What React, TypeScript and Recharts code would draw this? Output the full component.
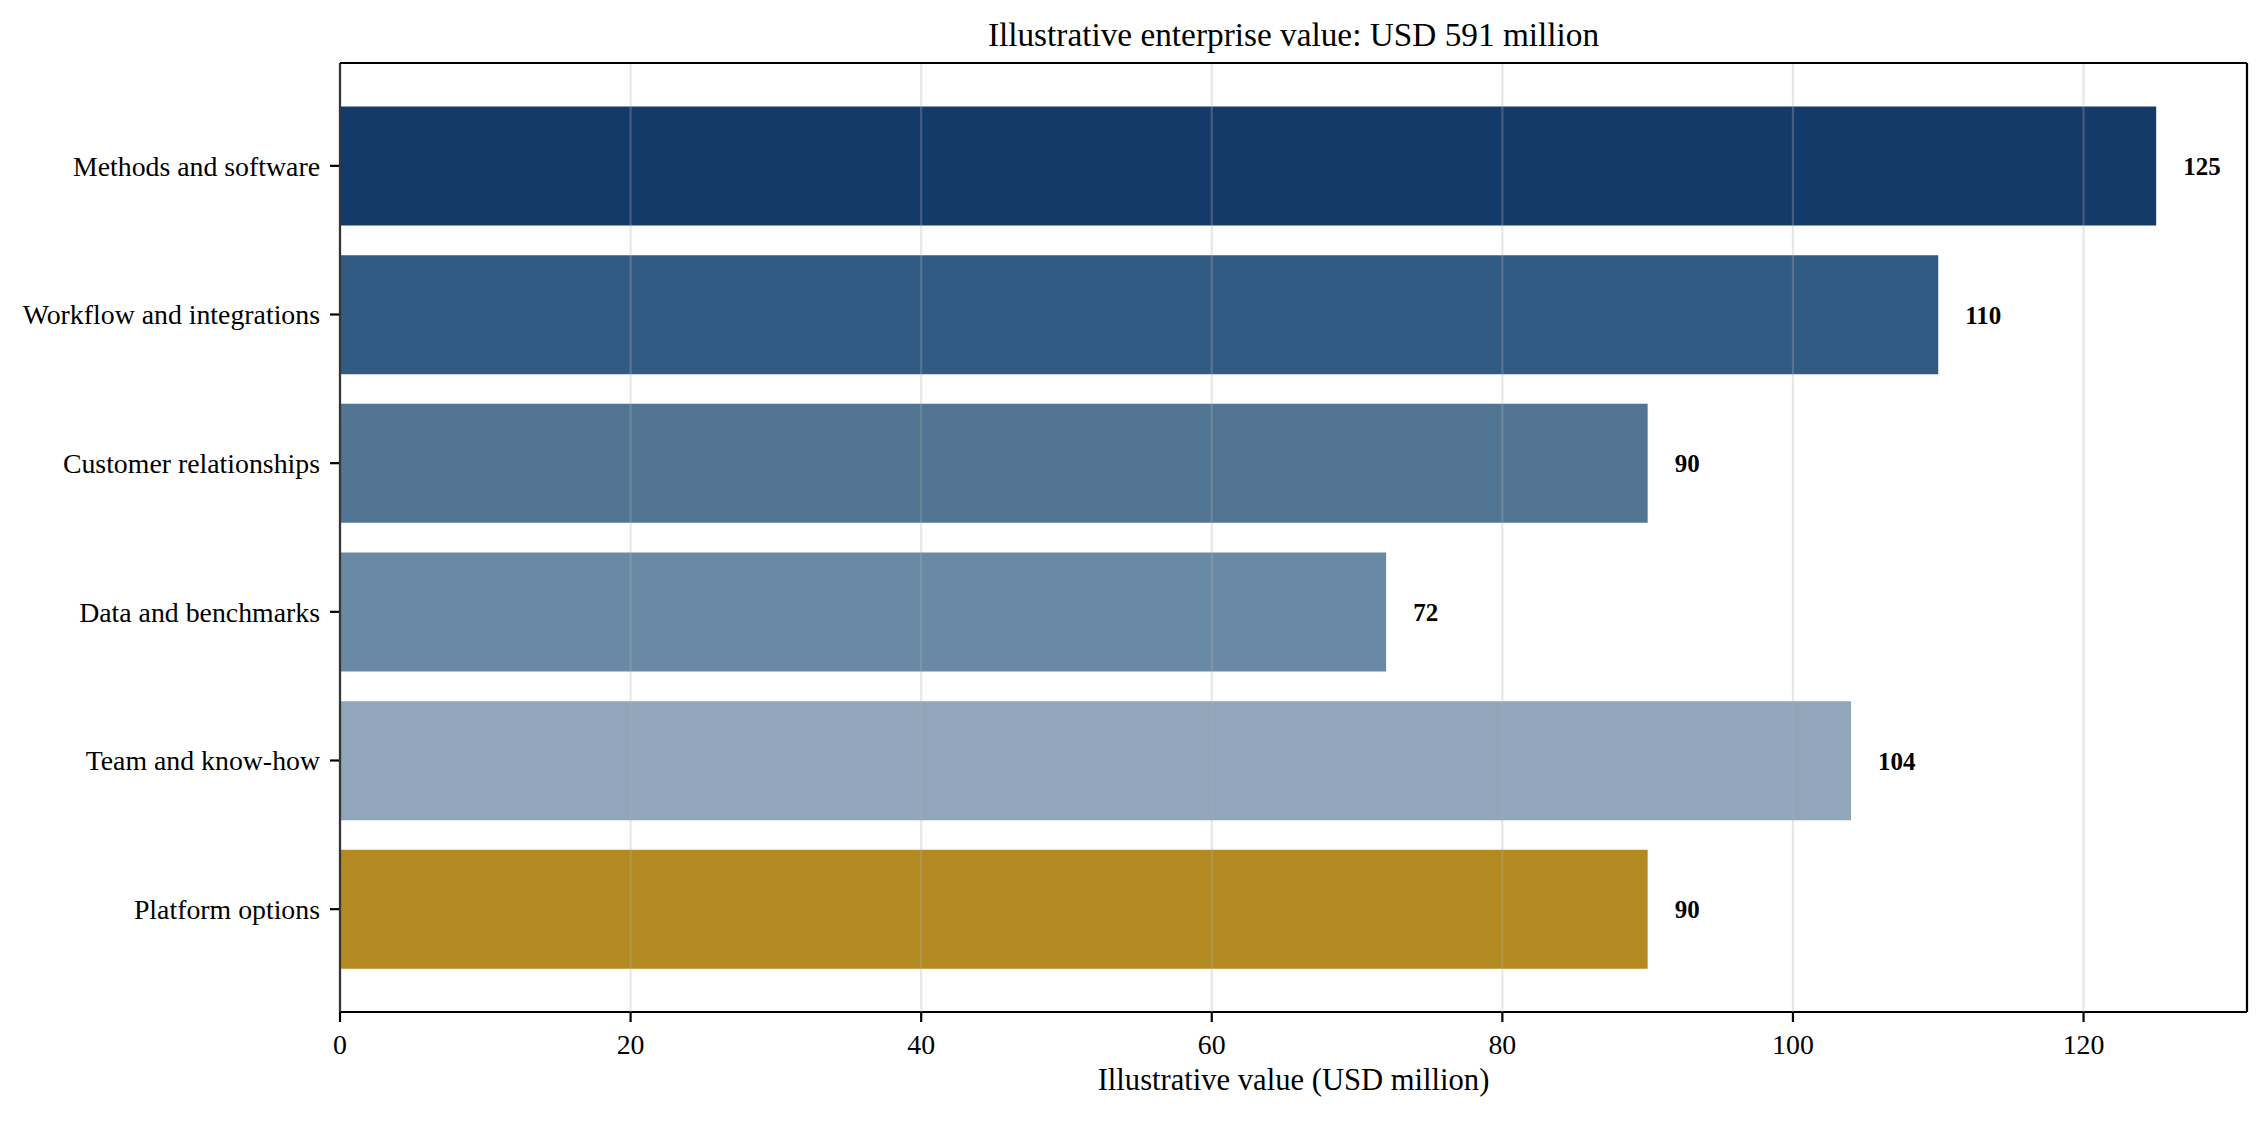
import { BarChart, Bar, XAxis, YAxis, CartesianGrid, Cell, LabelList, Label } from "recharts"

const categories = [
  "Methods and software",
  "Workflow and integrations",
  "Customer relationships",
  "Data and benchmarks",
  "Team and know-how",
  "Platform options",
]
const values = [125, 110, 90, 72, 104, 90]
const barColors = ["#143a69", "#315b83", "#517593", "#6a89a4", "#91a6ba", "#b38a21"]
const xTicks = [0, 20, 40, 60, 80, 100, 120]
const xMax = 131.25
const title = "Illustrative enterprise value: USD 591 million"
const xLabel = "Illustrative value (USD million)"

const FONT = "'Liberation Serif', 'Times New Roman', Times, serif"

// top and right spines, taken from the plot box
const frameRows = ({ offset }: any) => [offset.top]
const frameCols = ({ offset }: any) => [offset.left + offset.width]

export default function App() {
  const data = categories.map((name, i) => ({ name, value: values[i] }))
  const axisStroke = { stroke: "#000", strokeWidth: 2.2 }

  return (
    <div style={{ position: "absolute", left: 0, top: 0, width: 2268, height: 1121, background: "#fff", fontFamily: FONT }}>
      <div
        style={{
          position: "absolute",
          top: 18,
          left: 340,
          width: 1907,
          textAlign: "center",
          fontSize: 33.3,
          lineHeight: "33.3px",
          color: "#000",
        }}
      >
        {title}
      </div>
      <BarChart
        width={2268}
        height={1121}
        data={data}
        layout="vertical"
        margin={{ top: 63, right: 21, bottom: 0, left: 0 }}
      >
        <CartesianGrid
          horizontal={false}
          stroke="#b0b0b0"
          strokeOpacity={0.3}
          strokeWidth={2.2}
          zIndex={650}
        />
        <CartesianGrid
          horizontalCoordinatesGenerator={frameRows}
          verticalCoordinatesGenerator={frameCols}
          stroke="#000"
          strokeWidth={2.2}
          zIndex={660}
        />
        <XAxis
          type="number"
          domain={[0, xMax]}
          ticks={xTicks}
          allowDataOverflow
          height={109}
          axisLine={axisStroke}
          tickLine={axisStroke}
          tickSize={10}
          tickMargin={12}
          tick={{ fill: "#000", fontSize: 27.8, fontFamily: FONT }}
        >
          <Label
            value={xLabel}
            position="insideBottom"
            offset={31}
            style={{ fill: "#000", fontSize: 30.6, fontFamily: FONT }}
          />
        </XAxis>
        <YAxis
          type="category"
          dataKey="name"
          width={340}
          padding={{ top: 28.5, bottom: 28.5 }}
          axisLine={axisStroke}
          tickLine={axisStroke}
          tickSize={10}
          tickMargin={10}
          interval={0}
          tick={{ fill: "#000", fontSize: 27.8, fontFamily: FONT }}
        />
        <Bar dataKey="value" barSize={119} isAnimationActive={false}>
          {data.map((d, i) => (
            <Cell key={d.name} fill={barColors[i]} />
          ))}
          <LabelList
            dataKey="value"
            position="right"
            offset={27}
            style={{ fill: "#000", fontSize: 25, fontWeight: "bold", fontFamily: FONT }}
          />
        </Bar>
      </BarChart>
    </div>
  )
}
